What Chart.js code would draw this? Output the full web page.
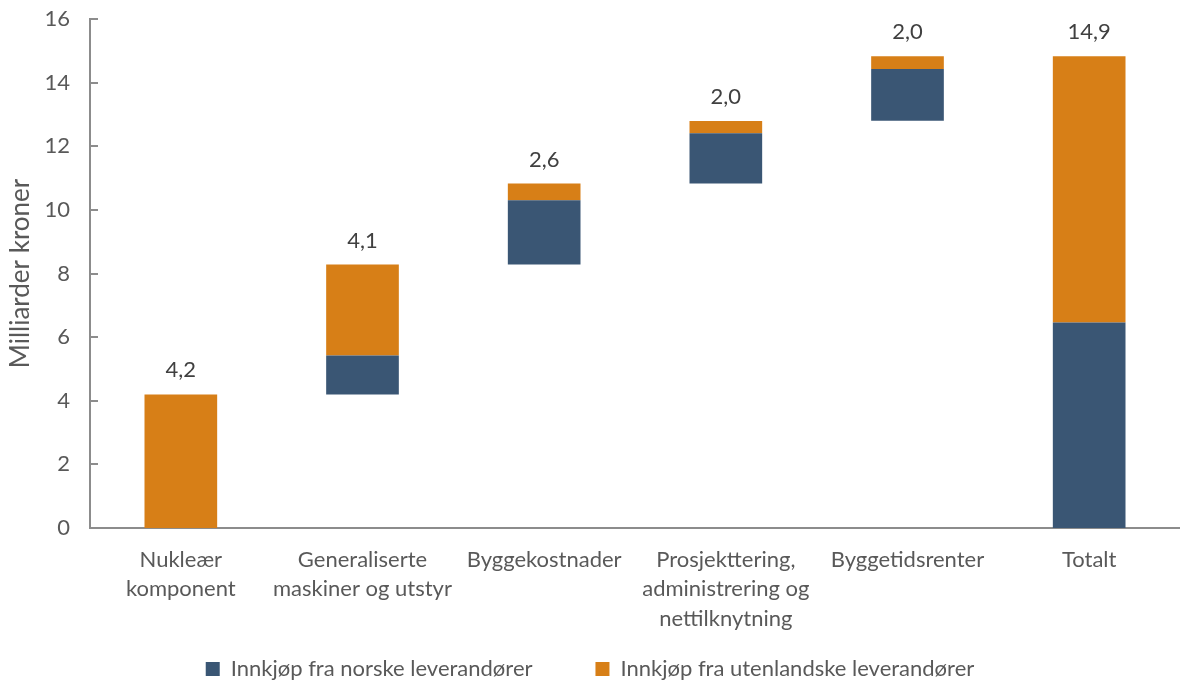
<!DOCTYPE html>
<html lang="no">
<head>
<meta charset="utf-8">
<title>Kostnader</title>
<script src="https://cdn.jsdelivr.net/npm/chart.js@4"></script>
<style>
    html, body { margin: 0; padding: 0; background: #fff; }
    #wrap { width: 1180px; height: 682px; }
</style>
</head>
<body>
<div id="wrap"><canvas id="kostnader"></canvas></div>
<script>
// Kategorier på x-aksen
const kategorier = [
    ["Nukleær", "komponent"],
    ["Generaliserte", "maskiner og utstyr"],
    "Byggekostnader",
    ["Prosjekttering,", "administrering og", "nettilknytning"],
    "Byggetidsrenter",
    "Totalt",
];
// Usynlig grunnlag (fossefall), milliarder kroner
const grunnlag = [0, 4.2, 8.28, 10.83, 12.8, 0];
const norske = [0, 1.22, 2.02, 1.58, 1.63, 6.46];
const utenlandske = [4.2, 2.86, 0.53, 0.38, 0.4, 8.37];
// Verdier over søylene
const etiketter = ["4,2", "4,1", "2,6", "2,0", "2,0", "14,9"];
const yTicks = [0, 2, 4, 6, 8, 10, 12, 14, 16];

const BLAA = "#3a5674";
const ORANSJE = "#d77f17";
const GRAA = "#595959";
const AKSE = "#8c8c8c";
const FONT = "Lato, 'Open Sans', sans-serif";

// Skriver verdien over hver søyle
const verdiEtiketter = {
    id: "verdiEtiketter",
    afterDatasetsDraw(chart) {
        const ctx = chart.ctx;
        const meta = chart.getDatasetMeta(2);
        ctx.save();
        ctx.font = "22px " + FONT;
        ctx.fillStyle = "#404040";
        ctx.textAlign = "center";
        ctx.textBaseline = "middle";
        meta.data.forEach((bar, i) => {
            ctx.fillText(etiketter[i], bar.x, bar.y - 24);
        });
        ctx.restore();
    },
};

// Små tikkmerker som peker inn i plottet
const innTikk = {
    id: "innTikk",
    afterDraw(chart) {
        const ctx = chart.ctx;
        const y = chart.scales.y;
        const x0 = chart.chartArea.left;
        ctx.save();
        ctx.strokeStyle = AKSE;
        ctx.lineWidth = 2;
        yTicks.forEach((v) => {
            const py = Math.round(y.getPixelForValue(v));
            ctx.beginPath();
            ctx.moveTo(x0, py);
            ctx.lineTo(x0 + 8, py);
            ctx.stroke();
        });
        ctx.restore();
    },
};

// Flytter forklaringen litt ned mot bunnen
const senkLegend = {
    id: "senkLegend",
    afterLayout(chart) {
        chart.legend.top += 8;
        chart.legend.bottom += 8;
    },
};

new Chart(document.getElementById("kostnader"), {
    type: "bar",
    data: {
        labels: kategorier,
        datasets: [
            {
                label: "grunnlag",
                data: grunnlag,
                backgroundColor: "rgba(0,0,0,0)",
            },
            {
                label: "Innkjøp fra norske leverandører",
                data: norske,
                backgroundColor: BLAA,
            },
            {
                label: "Innkjøp fra utenlandske leverandører",
                data: utenlandske,
                backgroundColor: ORANSJE,
            },
        ],
    },
    options: {
        responsive: true,
        maintainAspectRatio: false,
        animation: false,
        barPercentage: 0.4,
        categoryPercentage: 1.0,
        layout: {
            padding: { top: 19, right: 0, left: 0, bottom: 0 },
        },
        plugins: {
            tooltip: { enabled: false },
            legend: {
                position: "bottom",
                labels: {
                    boxWidth: 14,
                    boxHeight: 14,
                    padding: 1,
                    color: GRAA,
                    font: { family: FONT, size: 22 },
                    // skjul grunnlaget og gi luft mellom elementene
                    generateLabels: (chart) => {
                        const liste = Chart.defaults.plugins.legend.labels.generateLabels(chart);
                        return liste
                            .filter((item) => item.datasetIndex > 0)
                            .map((item, i) => {
                                if (i === 0) item.text = item.text + "           ";
                                return item;
                            });
                    },
                },
            },
        },
        scales: {
            x: {
                stacked: true,
                grid: { display: false },
                border: { color: AKSE, width: 2 },
                afterFit: (scale) => {
                    scale.height = 121;
                },
                ticks: {
                    color: GRAA,
                    padding: 9,
                    autoSkip: false,
                    maxRotation: 0,
                    font: { family: FONT, size: 22, lineHeight: 1.34 },
                },
            },
            y: {
                stacked: true,
                min: 0,
                max: 16,
                grid: { display: false, drawTicks: false },
                border: { color: AKSE, width: 2 },
                afterFit: (scale) => {
                    scale.width = 90;
                    scale.paddingTop = 0;
                    scale.paddingBottom = 0;
                },
                title: {
                    display: true,
                    text: "Milliarder kroner",
                    color: GRAA,
                    font: { family: FONT, size: 26 },
                    padding: { top: 5, bottom: 0 },
                },
                ticks: {
                    stepSize: 2,
                    color: GRAA,
                    padding: 20,
                    font: { family: FONT, size: 22 },
                },
            },
        },
    },
    plugins: [verdiEtiketter, innTikk, senkLegend],
});
</script>
</body>
</html>
